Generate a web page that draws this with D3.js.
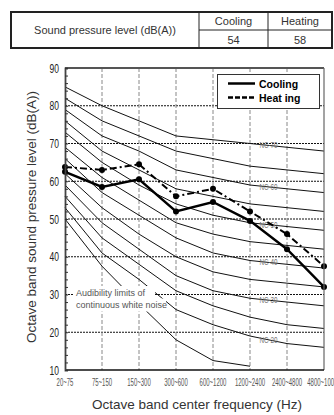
<!DOCTYPE html>
<html>
<head>
<meta charset="utf-8">
<script src="https://cdn.jsdelivr.net/npm/d3@7/dist/d3.min.js"></script>
<style>
    body { margin: 0; background: #fff; }
    svg { display: block; }
</style>
</head>
<body>
<div id="contenedor"></div>
<script>
// bandas de octava (eje x)
const categorias = ["20~75", "75~150", "150~300", "300~600", "600~1200", "1200~2400", "2400~4800", "4800~10000"];
const ticksY = [10, 20, 30, 40, 50, 60, 70, 80, 90];

// series medidas
const enfriamiento = [62.5, 58.5, 60.5, 52, 54.5, 49.5, 42, 32];
const calefaccion = [63.8, 63, 64.5, 56, 58, 52, 46, 37.5];

// curvas NC
const nc70 = [85, 80, 76, 72, 71, 70, 69, 68];
const nc65 = [82, 76, 72, 68, 66, 64, 63, 62];
const nc60 = [79, 72, 68, 63, 61, 59, 58, 57];
const nc55 = [76, 68, 63, 58, 56, 54, 53, 52];
const nc50 = [73, 65, 59, 54, 51, 49, 48, 47];
const nc45 = [69, 61, 55, 49, 46, 44, 43, 42];
const nc40 = [66, 57, 51, 45, 41, 39, 38, 37];
const nc35 = [62, 53, 46, 40, 36, 34, 33, 32];
const nc30 = [59, 49, 42, 35, 31, 29, 28, 27];
const nc25 = [56, 45, 38, 31, 27, 24, 22, 21];
const nc20 = [53, 41, 34, 26, 22, 19, 17, 16];
// limite de audibilidad (solo hasta 1200~2400)
const audibilidad = [50, 37.5, 27.5, 18, 12.5, 11];

const curvasNC = [
    {nombre: "NC-70", valores: nc70, etiqueta: true},
    {nombre: "NC-65", valores: nc65, etiqueta: false},
    {nombre: "NC-60", valores: nc60, etiqueta: true},
    {nombre: "NC-55", valores: nc55, etiqueta: false},
    {nombre: "NC-50", valores: nc50, etiqueta: true},
    {nombre: "NC-45", valores: nc45, etiqueta: false},
    {nombre: "NC-40", valores: nc40, etiqueta: true},
    {nombre: "NC-35", valores: nc35, etiqueta: false},
    {nombre: "NC-30", valores: nc30, etiqueta: true},
    {nombre: "NC-25", valores: nc25, etiqueta: false},
    {nombre: "NC-20", valores: nc20, etiqueta: true}
];

const izq = 65, der = 324, arriba = 68, abajo = 370;
const fuente = "'Liberation Sans', Arial, sans-serif";

const $svg = d3.select("#contenedor")
    .append("svg")
    .attr("width", 334)
    .attr("height", 415);

// texto angosto (la fuente condensada no esta, se comprime a mano)
const textoAngosto = (g, cx, cy, escala, tam, color, ancla) => g.append("text")
    .attr("transform", `translate(${cx},${cy}) scale(${escala},1)`)
    .attr("font-family", fuente)
    .attr("font-size", tam)
    .attr("fill", color)
    .style("text-anchor", ancla)
    .style("dominant-baseline", "central");

// tabla superior
const tabla = $svg.append("g");
tabla.append("rect")
    .attr("x", 11).attr("y", 12).attr("width", 321).attr("height", 36)
    .attr("fill", "none").attr("stroke", "#222").attr("stroke-width", 2);
[[199, 12, 199, 48], [268, 12, 268, 48], [199, 30, 332, 30]].forEach(l => {
    tabla.append("line")
        .attr("x1", l[0]).attr("y1", l[1]).attr("x2", l[2]).attr("y2", l[3])
        .attr("stroke", "#222").attr("stroke-width", 1);
});
const textosTabla = [
    ["Sound pressure level (dB(A))", 105, 30],
    ["Cooling", 233.5, 21],
    ["Heating", 300, 21],
    ["54", 233.5, 39.5],
    ["58", 300, 39.5]
];
textosTabla.forEach(t => {
    tabla.append("text")
        .attr("x", t[1]).attr("y", t[2])
        .attr("font-family", fuente).attr("font-size", 11)
        .attr("fill", "#333")
        .style("text-anchor", "middle")
        .style("dominant-baseline", "central")
        .text(t[0]);
});

const x = d3.scalePoint().domain(categorias).range([izq, der]);
const y = d3.scaleLinear().domain([10, 90]).range([abajo, arriba]);

// rejilla horizontal punteada
$svg.append("g")
    .selectAll("line")
    .data(ticksY.filter(v => v > 10 && v < 90))
    .join("line")
    .attr("x1", izq).attr("x2", der)
    .attr("y1", d => y(d)).attr("y2", d => y(d))
    .attr("stroke", "#111").attr("stroke-width", 1)
    .attr("stroke-dasharray", "2,1");

// rejilla vertical
$svg.append("g")
    .selectAll("line")
    .data(categorias.slice(1, -1))
    .join("line")
    .attr("x1", d => x(d)).attr("x2", d => x(d))
    .attr("y1", arriba).attr("y2", abajo)
    .attr("stroke", "#888").attr("stroke-width", 1)
    .attr("stroke-dasharray", "4,2");

const linea = d3.line()
    .x((d, i) => x(categorias[i]))
    .y(d => y(d));

// curvas NC
$svg.append("g")
    .selectAll("path")
    .data(curvasNC)
    .join("path")
    .attr("d", d => linea(d.valores))
    .attr("fill", "none")
    .attr("stroke", "#111")
    .attr("stroke-width", 1);

$svg.append("path")
    .attr("d", linea(audibilidad))
    .attr("fill", "none")
    .attr("stroke", "#111")
    .attr("stroke-width", 1);

// etiquetas NC entre 1200~2400 y 2400~4800
const xEtiqueta = (x(categorias[5]) + x(categorias[6])) / 2;
const gEtiquetas = $svg.append("g");
curvasNC.filter(c => c.etiqueta).forEach(c => {
    textoAngosto(gEtiquetas, xEtiqueta, y((c.valores[5] + c.valores[6]) / 2), 0.7, 9, "#777", "middle")
        .text(c.nombre);
});

// texto del limite de audibilidad con fondo blanco
const notas = [["Audibility limits of", 292.5, 82], ["continuous white noise", 305, 93]];
notas.forEach(n => {
    $svg.append("rect")
        .attr("x", 73).attr("y", n[1] - 6.5)
        .attr("width", n[2]).attr("height", 13)
        .attr("fill", "#fff");
});
notas.forEach(n => {
    $svg.append("text")
        .attr("x", 76).attr("y", n[1])
        .attr("font-family", fuente).attr("font-size", 9)
        .attr("fill", "#555")
        .style("dominant-baseline", "central")
        .text(n[0]);
});

// series
const series = [
    {valores: enfriamiento, ancho: 2.4, trazo: null},
    {valores: calefaccion, ancho: 2, trazo: "7,3,2,3"}
];
series.forEach(s => {
    $svg.append("path")
        .attr("d", linea(s.valores))
        .attr("fill", "none")
        .attr("stroke", "#000")
        .attr("stroke-width", s.ancho)
        .attr("stroke-dasharray", s.trazo);
    $svg.append("g")
        .selectAll("circle")
        .data(s.valores)
        .join("circle")
        .attr("cx", (d, i) => x(categorias[i]))
        .attr("cy", d => y(d))
        .attr("r", 3)
        .attr("fill", "#000");
});

// marco
$svg.append("line")
    .attr("x1", izq).attr("x2", der).attr("y1", arriba).attr("y2", arriba)
    .attr("stroke", "#555").attr("stroke-width", 2);
$svg.append("line")
    .attr("x1", der).attr("x2", der).attr("y1", arriba).attr("y2", abajo)
    .attr("stroke", "#666").attr("stroke-width", 1.2);
$svg.append("line")
    .attr("x1", izq).attr("x2", der).attr("y1", abajo).attr("y2", abajo)
    .attr("stroke", "#111").attr("stroke-width", 1.5);

// eje y con ticks menores hacia adentro
$svg.append("g")
    .attr("transform", `translate(${izq},0)`)
    .call(d3.axisLeft(y).tickValues(d3.range(10, 91, 2)).tickSize(-3).tickFormat(""))
    .call(g => g.select(".domain").attr("stroke", "#444").attr("stroke-width", 1.8))
    .call(g => g.selectAll(".tick line").attr("stroke", "#333"));

const gTicksY = $svg.append("g");
ticksY.forEach(v => {
    textoAngosto(gTicksY, 59, y(v), 0.68, 12.5, "#222", "end").text(v);
});

// etiquetas de bandas
const gBandas = $svg.append("g");
categorias.forEach(c => {
    textoAngosto(gBandas, x(c), 383, 0.6, 10, "#555", "middle").text(c);
});

// leyenda
const leyenda = $svg.append("g");
leyenda.append("rect")
    .attr("x", 217.5).attr("y", 74.5).attr("width", 102).attr("height", 34)
    .attr("fill", "#fff").attr("stroke", "#333").attr("stroke-width", 1);
[["Cooling", null, 83.5], ["Heat ing", "5,2", 97.5]].forEach(l => {
    leyenda.append("line")
        .attr("x1", 228).attr("x2", 255).attr("y1", l[2]).attr("y2", l[2])
        .attr("stroke", "#000").attr("stroke-width", 2.5)
        .attr("stroke-dasharray", l[1]);
    leyenda.append("text")
        .attr("x", 259).attr("y", l[2])
        .attr("font-family", fuente).attr("font-size", 10.5)
        .attr("font-weight", "bold")
        .attr("fill", "#000")
        .style("dominant-baseline", "central")
        .text(l[0]);
});

// titulos de ejes
$svg.append("text")
    .attr("transform", "translate(31,217) rotate(-90)")
    .attr("font-family", fuente).attr("font-size", 13.5)
    .attr("fill", "#333")
    .style("text-anchor", "middle")
    .style("dominant-baseline", "central")
    .text("Octave band sound pressure level (dB(A))");

$svg.append("text")
    .attr("x", 197).attr("y", 404)
    .attr("font-family", fuente).attr("font-size", 13.5)
    .attr("fill", "#333")
    .style("text-anchor", "middle")
    .style("dominant-baseline", "central")
    .text("Octave band center frequency (Hz)");
</script>
</body>
</html>
